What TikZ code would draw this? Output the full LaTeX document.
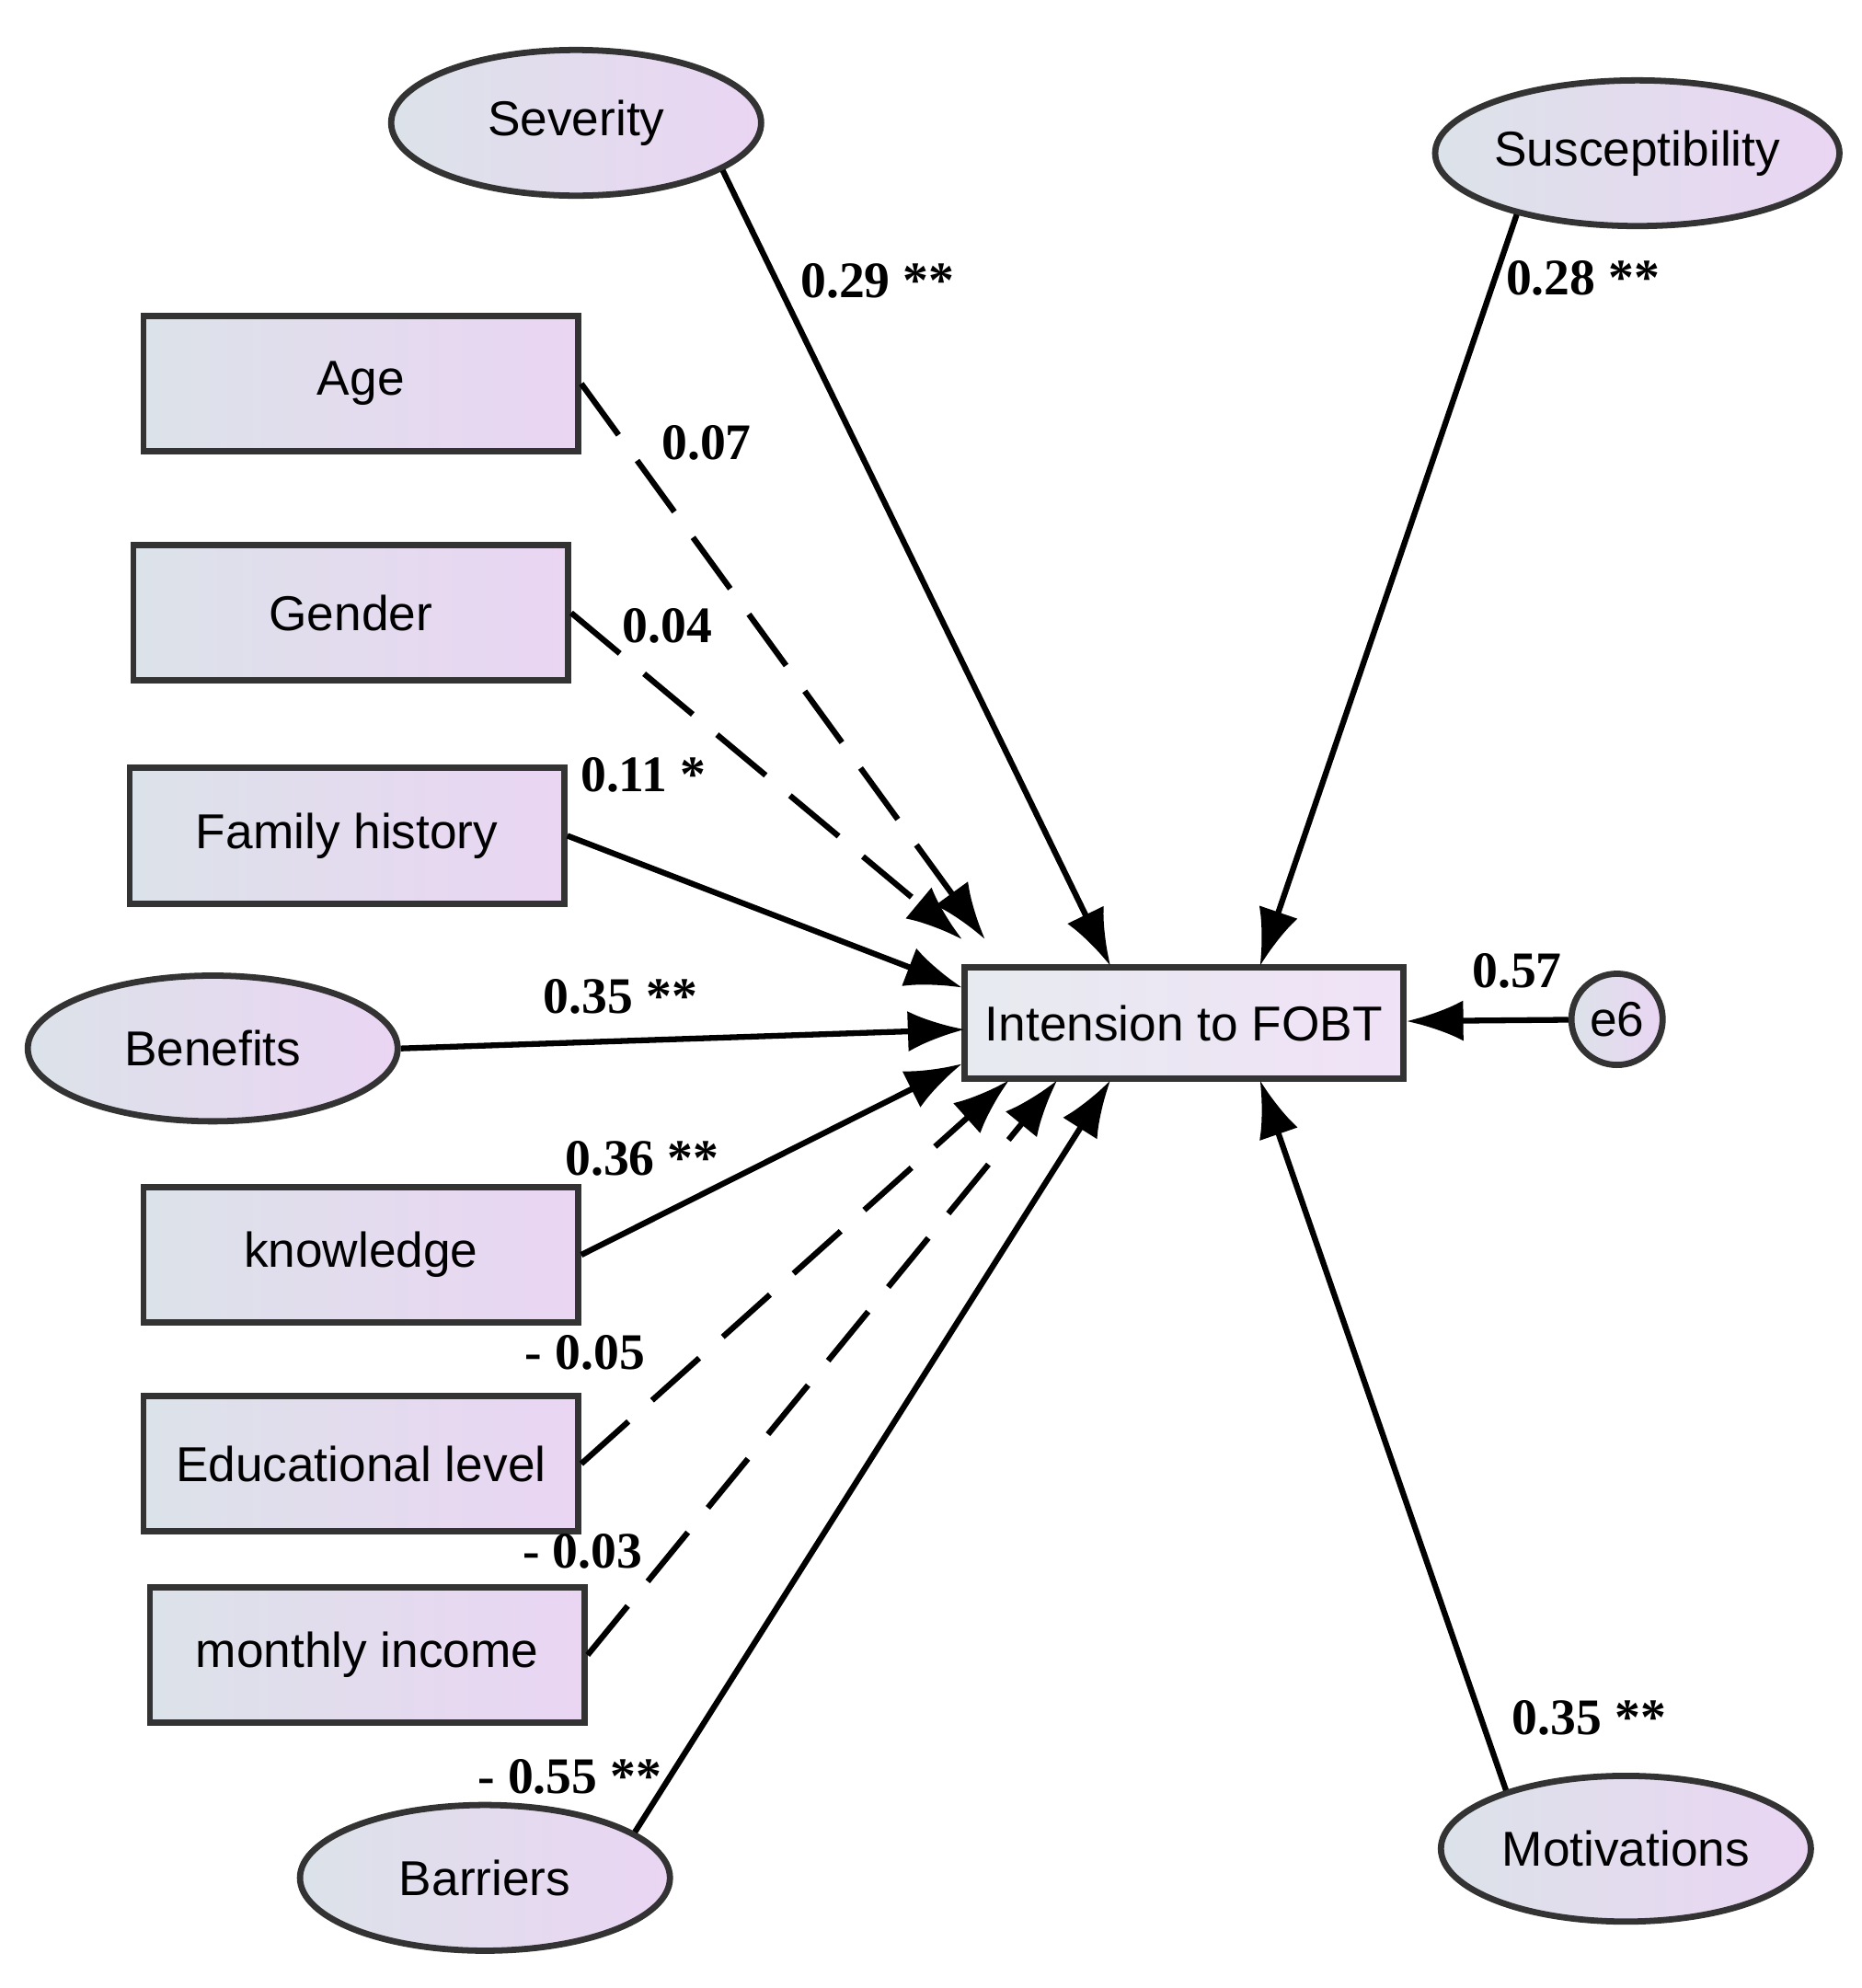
\documentclass[tikz,border=0pt]{standalone}
\usepackage{fontspec}
\setmainfont{Liberation Sans}
\newfontfamily\labfont{Liberation Serif}
\usetikzlibrary{arrows.meta,shapes.geometric}

\definecolor{boxleft}{HTML}{DCE2E9}
\definecolor{boxright}{HTML}{EAD5F3}

\begin{document}
\begin{tikzpicture}[x=0.01cm,y=-0.01cm,
	obs/.style={draw=black!80, line width=1.4pt, left color=boxleft, right color=boxright, inner sep=1pt, minimum width=3.43cm, minimum height=1.07cm, font=\fontsize{11}{13}\selectfont},
	lat/.style={ellipse, draw=black!80, line width=1.4pt, left color=boxleft, right color=boxright, inner sep=0pt, minimum width=2.92cm, minimum height=1.15cm, font=\fontsize{11}{13}\selectfont},
	path/.style={line width=1.3pt, -{Latex[length=4.5mm,width=3.2mm]}},
	dpath/.style={path, dash pattern=on 5mm off 2.5mm},
	coef/.style={font=\labfont\bfseries\fontsize{11.5}{14}\selectfont}]
	\useasboundingbox (0,0) rectangle (1470,1570);
	% observed and latent variables
	\node[obs, minimum width=3.46cm, minimum height=0.88cm, left color=boxleft!70!white, right color=boxright!70!white] (fobt) at (935,808) {Intension to FOBT};
	\node[lat] (sev) at (455,97) {Severity};
	\node[lat] (sus) at (1293,121) {Susceptibility};
	\node[obs] (age) at (285,303) {Age};
	\node[obs] (gen) at (277,484) {Gender};
	\node[obs] (fam) at (274,660) {Family history};
	\node[lat] (ben) at (168,828) {Benefits};
	\node[obs] (know) at (285,991) {knowledge};
	\node[obs] (edu) at (285,1156) {Educational level};
	\node[obs] (inc) at (290,1307) {monthly income};
	\node[lat] (bar) at (383,1483) {Barriers};
	\node[lat] (mot) at (1284,1460) {Motivations};
	\node[circle, draw=black!80, line width=1.4pt, left color=boxleft, right color=boxright, minimum size=0.72cm, inner sep=0pt, font=\fontsize{11}{13}\selectfont] (e6) at (1277,805) {e6};
	% arrow ends on the box
	\coordinate (tSev) at (877,763);
	\coordinate (tSus) at (995,763);
	\coordinate (tAge) at (778,742);
	\coordinate (tGen) at (760,742);
	\coordinate (tFam) at (760,780);
	\coordinate (tBen) at (762,813);
	\coordinate (tKnow) at (760,840);
	\coordinate (tEdu) at (797,853);
	\coordinate (tInc) at (835,853);
	\coordinate (tBar) at (877,853);
	\coordinate (tMot) at (995,853);
	% paths
	\draw[path] (sev.-18) -- (tSev);
	\draw[path] (sus.-153) -- (tSus);
	\draw[dpath] (age.east) -- (tAge);
	\draw[dpath] (gen.east) -- (tGen);
	\draw[path] (fam.east) -- (tFam);
	\draw[path] (ben.east) -- (tBen);
	\draw[path] (know.east) -- (tKnow);
	\draw[dpath] (edu.east) -- (tEdu);
	\draw[dpath] (inc.east) -- (tInc);
	\draw[path] (bar.17) -- (tBar);
	\draw[path] (mot.154) -- (tMot);
	\draw[path] (e6) -- (fobt);
	% coefficients
	\node[coef] at (693,222) {0.29 **};
	\node[coef] at (1250,220) {0.28 **};
	\node[coef] at (558,350) {0.07};
	\node[coef] at (527,494) {0.04};
	\node[coef] at (508,612) {0.11 *};
	\node[coef] at (490,787) {0.35 **};
	\node[coef] at (507,915) {0.36 **};
	\node[coef] at (462,1068) {- 0.05};
	\node[coef] at (460,1225) {- 0.03};
	\node[coef] at (450,1403) {- 0.55 **};
	\node[coef] at (1255,1357) {0.35 **};
	\node[coef] at (1198,767) {0.57};
\end{tikzpicture}
\end{document}
